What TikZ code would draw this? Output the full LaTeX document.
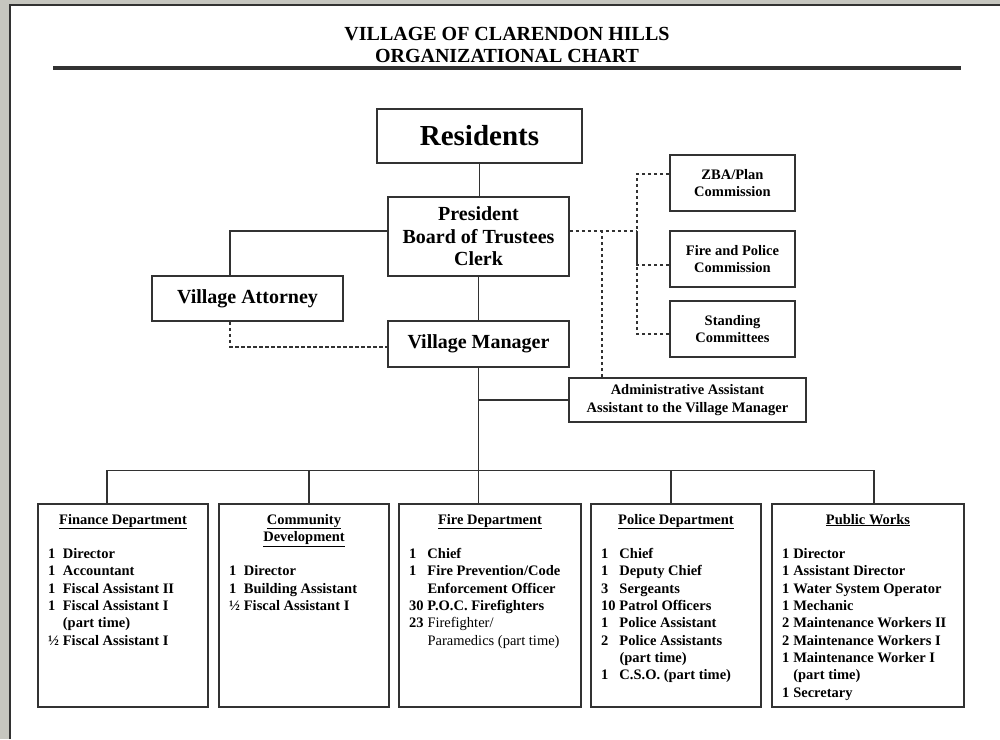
\documentclass[tikz,border=0pt]{standalone}
\usepackage{fontspec}
\setmainfont{Liberation Serif}
\usetikzlibrary{calc}
\definecolor{bggray}{RGB}{198,198,191}
\definecolor{lnc}{RGB}{50,50,50}
\newcommand{\fsz}[2]{\fontsize{#1}{#2}\selectfont}
\newcommand{\deptbody}[3]{\begin{minipage}[t][203pt][t]{#1}\fsz{14.5}{17.3}\bfseries
  \centering\rule{0pt}{20pt}#2\par\vspace{17.3pt}\raggedright
  \begin{tabular}[t]{@{}l@{\hspace{4pt}}l@{}}#3\end{tabular}\end{minipage}}

\begin{document}
\begin{tikzpicture}
    [x=1pt, y=-1pt,
    bsty/.style={rectangle, draw=lnc, line width=1.8pt, fill=white, inner sep=0pt, align=center},
    csty/.style={bsty, minimum width=125pt, minimum height=56pt, font=\bfseries\fsz{14.5}{17.5}},
    dsty/.style={rectangle, draw=lnc, line width=1.8pt, fill=white, inner sep=0pt, minimum height=203pt},
    tsty/.style={inner sep=0pt, anchor=base, font=\bfseries\fsz{20}{22}},
    lsty/.style={draw=lnc, line width=1.8pt},
    dlsty/.style={lsty, dash pattern=on 3.5pt off 2.5pt}]
    % page
    \useasboundingbox (0,0) rectangle (1000,739);
    \fill[bggray] (0,0) rectangle (1000,739);
    \fill[white] (10,5) rectangle (1000,739);
    \draw[lnc, line width=1.5pt] (10,739) -- (10,5) -- (1000,5);
    % title
    \node[tsty] (t1) at (507,40) {VILLAGE OF CLARENDON HILLS};
    \node[tsty] (t2) at (507,62) {ORGANIZATIONAL CHART};
    \draw[lnc, line width=3.2pt] (53,68) -- (961,68);
    % nodes
    \node[bsty, minimum width=205pt, minimum height=54pt, font=\bfseries\fsz{29}{32}] (res) at (479.5,136) {Residents};
    \node[bsty, minimum width=181pt, minimum height=79pt, font=\bfseries\fsz{20}{22.5}] (pres) at (478.5,236.5) {President\\Board of Trustees\\Clerk};
    \node[bsty, minimum width=191pt, minimum height=45pt, font=\bfseries\fsz{20}{22}] (att) at (247.5,298.5) {Village Attorney};
    \node[bsty, minimum width=181pt, minimum height=46pt, font=\bfseries\fsz{20}{22}] (vm) at (478.5,344) {Village Manager};
    \node[csty] (zba) at (732.5,183) {ZBA/Plan\\Commission};
    \node[csty] (fpc) at (732.5,259) {Fire and Police\\Commission};
    \node[csty] (stc) at (732.5,329) {Standing\\Committees};
    \node[bsty, minimum width=237pt, minimum height=44pt, font=\bfseries\fsz{14.5}{17.7}] (adm) at (687.5,400) {Administrative Assistant\\Assistant to the Village Manager};
    % departments
    \node[dsty, minimum width=170pt] (fin) at (123,605.5) {\deptbody{150pt}{\underline{Finance Department}}
        {1 & Director\\ 1 & Accountant\\ 1 & Fiscal Assistant II\\ 1 & Fiscal Assistant I\\ & (part time)\\ ½ & Fiscal Assistant I}};
    \node[dsty, minimum width=170pt] (cdv) at (304,605.5) {\deptbody{150pt}{\underline{Community}\\\underline{Development}}
        {1 & Director\\ 1 & Building Assistant\\ ½ & Fiscal Assistant I}};
    \node[dsty, minimum width=182pt] (fir) at (490,605.5) {\deptbody{162pt}{\underline{Fire Department}}
        {1 & Chief\\ 1 & Fire Prevention/Code\\ & Enforcement Officer\\ 30 & P.O.C. Firefighters\\ 23 & \mdseries Firefighter/\\ & \mdseries Paramedics (part time)}};
    \node[dsty, minimum width=170pt] (pol) at (676,605.5) {\deptbody{150pt}{\underline{Police Department}}
        {1 & Chief\\ 1 & Deputy Chief\\ 3 & Sergeants\\ 10 & Patrol Officers\\ 1 & Police Assistant\\ 2 & Police Assistants\\ & (part time)\\ 1 & C.S.O. (part time)}};
    \node[dsty, minimum width=192pt] (pwk) at (868,605.5) {\deptbody{172pt}{\underline{Public Works}}
        {1 & Director\\ 1 & Assistant Director\\ 1 & Water System Operator\\ 1 & Mechanic\\ 2 & Maintenance Workers II\\ 2 & Maintenance Workers I\\ 1 & Maintenance Worker I\\ & (part time)\\ 1 & Secretary}};
    % coordinates
    \coordinate (cbus) at (637,231);
    \coordinate (dbus) at (478.5,470.5);
    \coordinate (admin) at ([xshift=34pt]adm.north west);
    % lines
    \draw[lsty] (res.south) -- (res.south |- pres.north);
    \draw[lsty] (pres.south) -- (vm.north);
    \draw[lsty] ([yshift=5.5pt]pres.west) -| ([xshift=79pt]att.north west);
    \draw[dlsty] ([xshift=79pt]att.south west) |- ([yshift=-3pt]vm.west);
    \draw[dlsty] ([yshift=5.5pt]pres.east) -- (cbus);
    \draw[dlsty] ([yshift=9pt]zba.west) -| (cbus);
    \draw[dlsty] ([yshift=-6pt]fpc.west) -| (cbus);
    \draw[dlsty] ([yshift=-5pt]stc.west) -| (cbus);
    \draw[dlsty] (admin) -- (admin |- cbus);
    \draw[lsty] (vm.south) -- (dbus);
    \draw[lsty] (adm.west) -- (adm.west -| vm.south);
    \draw[lsty] ([xshift=-16pt]fin.north) |- (dbus);
    \draw[lsty] ([xshift=5pt]cdv.north) |- (dbus);
    \draw[lsty] (fir.north -| dbus) -- (dbus);
    \draw[lsty] ([xshift=-5pt]pol.north) |- (dbus);
    \draw[lsty] ([xshift=6pt]pwk.north) |- (dbus);
\end{tikzpicture}
\end{document}
